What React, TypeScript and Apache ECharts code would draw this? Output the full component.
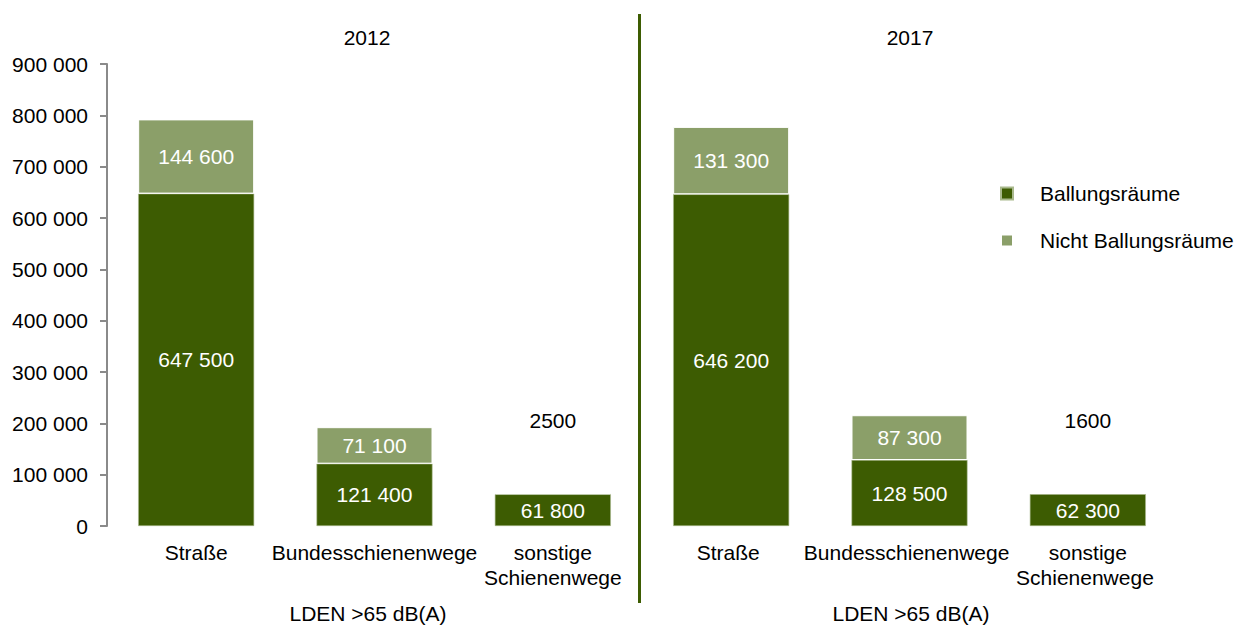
import React, { useEffect, useRef } from "react";
import * as echarts from "echarts";

const categories = [
  "Straße",
  "Bundesschienenwege",
  "sonstige\nSchienenwege",
  "Straße ",
  "Bundesschienenwege ",
  "sonstige\nSchienenwege ",
];
const ballungsraeume = [647500, 121400, 61800, 646200, 128500, 62300];
const nichtBallungsraeume = [144600, 71100, 2500, 131300, 87300, 1600];
const yearLabels = ["2012", "2017"];
const groupLabel = "LDEN >65 dB(A)";
const seriesNames = ["Ballungsräume", "Nicht Ballungsräume"];

const DARK = "#3d5c02";
const LIGHT = "#8b9f69";
const FONT = "Liberation Sans";
const FS = 21;

const fmt = (v: number) =>
  String(Math.round(v)).replace(/\B(?=(\d{3})+(?!\d))/g, " ");

export default function App() {
  const ref = useRef<HTMLDivElement>(null);
  useEffect(() => {
    if (!ref.current) return;
    const chart = echarts.init(ref.current, null, { renderer: "svg" });
    const txt = (text: string, x: number, y: number) => ({
      type: "text",
      x,
      y,
      style: {
        text,
        fontFamily: FONT,
        fontSize: FS,
        fill: "#000",
        align: "center",
        verticalAlign: "middle",
      },
    });
    chart.setOption({
      animation: false,
      textStyle: { fontFamily: FONT },
      grid: { left: 107, right: 62, top: 64, bottom: 101, containLabel: false },
      legend: {
        orient: "vertical",
        left: 995,
        top: 178,
        itemWidth: 12,
        itemHeight: 12,
        itemGap: 26,
        icon: "rect",
        textStyle: {
          fontFamily: FONT,
          fontSize: FS,
          color: "#000",
          padding: [0, 0, 0, 22],
        },
        data: seriesNames,
      },
      xAxis: {
        type: "category",
        data: categories,
        axisLine: { show: false },
        axisTick: { show: false },
        axisLabel: {
          interval: 0,
          margin: 14,
          fontFamily: FONT,
          fontSize: FS,
          color: "#000",
          lineHeight: 25,
        },
      },
      yAxis: {
        type: "value",
        min: 0,
        max: 900000,
        interval: 100000,
        splitLine: { show: false },
        axisLine: { show: true, lineStyle: { color: "#8a8a8a", width: 2 } },
        axisTick: { show: true, length: 7, lineStyle: { color: "#8a8a8a", width: 2 } },
        axisLabel: {
          margin: 19,
          fontFamily: FONT,
          fontSize: FS,
          color: "#000",
          formatter: (v: number) => fmt(v),
        },
      },
      series: [
        {
          name: seriesNames[0],
          type: "bar",
          stack: "a",
          barWidth: 116,
          data: ballungsraeume,
          itemStyle: { color: DARK, borderColor: "#a9b98d", borderWidth: 0.6 },
          label: {
            show: true,
            position: "inside",
            color: "#fff",
            fontFamily: FONT,
            fontSize: FS,
            formatter: (p: any) => fmt(p.value),
          },
        },
        {
          name: seriesNames[1],
          type: "bar",
          stack: "a",
          barWidth: 116,
          data: nichtBallungsraeume.map((v, i) =>
            i % 3 === 2
              ? {
                  value: v,
                  label: {
                    show: true,
                    position: "top",
                    offset: [0, -57],
                    color: "#000",
                    formatter: (p: any) => String(p.value),
                  },
                }
              : v
          ),
          itemStyle: { color: LIGHT, borderColor: "#fff", borderWidth: 1 },
          label: {
            show: true,
            position: "inside",
            color: "#fff",
            fontFamily: FONT,
            fontSize: FS,
            formatter: (p: any) => fmt(p.value),
          },
        },
      ],
      graphic: [
        {
          type: "line",
          shape: { x1: 639.5, y1: 14, x2: 639.5, y2: 603 },
          style: { stroke: DARK, lineWidth: 3 },
        },
        txt(yearLabels[0], 367, 37),
        txt(yearLabels[1], 910, 37),
        txt(groupLabel, 368, 613),
        txt(groupLabel, 911, 613),
      ],
    });
    return () => chart.dispose();
  }, []);
  return (
    <div
      ref={ref}
      style={{ position: "absolute", left: 0, top: 0, width: 1239, height: 627, background: "#fff" }}
    />
  );
}
